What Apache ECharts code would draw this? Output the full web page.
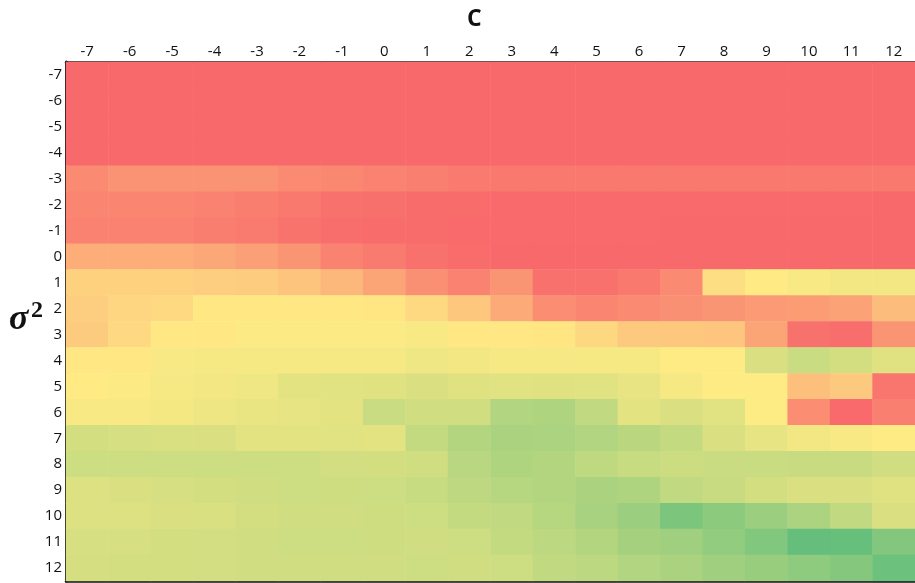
<!DOCTYPE html>
<html><head><meta charset="utf-8">
<script src="https://cdn.jsdelivr.net/npm/echarts@6/dist/echarts.min.js"></script>
<style>html,body{margin:0;padding:0;background:#fff}#c{width:915px;height:583px}</style>
</head><body><div id="c"></div>
<script>
const cLabels = ['-7','-6','-5','-4','-3','-2','-1','0','1','2','3','4','5','6','7','8','9','10','11','12'];
const sigmaLabels = ['-7','-6','-5','-4','-3','-2','-1','0','1','2','3','4','5','6','7','8','9','10','11','12'];
// score per cell: 0 = red, 50 = yellow, 100 = green (rows = sigma^2, columns = C)
const rowM7 = [0,0,0,0,0,0,0,0,0,0,0,0,0,0,0,0,0,0,0,0];
const rowM6 = [0,0,0,0,0,0,0,0,0,0,0,0,0,0,0,0,0,0,0,0];
const rowM5 = [0,0,0,0,0,0,0,0,0,0,0,0,0,0,0,0,0,0,0,0];
const rowM4 = [0,0,0,0,0,0,0,0,0,0,0,0,0,0,0,0,0,0,0,0];
const rowM3 = [13,16,16,16,16,13,12,10,9,7,6,6,6,6,6,6,6,6,6,6];
const rowM2 = [11,11,11,9.5,8,6,3,2.5,1.5,1,0.5,0.5,0.5,0.5,0.5,0.5,0.5,0.5,0.5,0];
const rowM1 = [10,10,10,8,7,4,2,1.5,1,0.5,0.5,0.5,0.5,0.5,0,0,0,0,0,0];
const row0  = [26,26,26,24,21,17,10,7,3,1,0,0,0,0,0,0,0,0,0,0];
const row1  = [40,40,40,39,38,35,30,23,15,9.5,17,3,3,6,13,45,49.5,52,54,54];
const row2  = [39,41.5,43,49,49,49,49,48,43,36,25,14,11,13,15,17,19,19.5,22,32];
const row3  = [37.5,43,49,49,51,51,51,51,52,48.5,48.5,48,42.5,37,36.5,35.5,23,3.5,2,17];
const row4  = [49,49,52,53,53,53,53,53,55,54,53,53,53,53,50,50,62,67,64,60];
const row5  = [49.5,51,53,54,55,58.5,59.5,60,62,60,59.5,60,59.5,57.5,53,50,50,33,37,5];
const row6  = [52,52,53.5,55.5,57,58,59,67,65,65,75,76,70,59,62,59.5,50.5,14,0.5,9];
const row7  = [64,63,62.5,62,59,59,59.5,58.5,69,74,77,76.5,75,72,69,62,58,54,52,50];
const row8  = [66,66,66,66,66,66,64.5,64,65,72.5,75.5,74,70.5,68,66.5,67,67,67.5,67.5,65];
const row9  = [61,62,63,64,65,66,65.5,66,68,71,73.5,74,77,75.5,70,67.5,64,62,62,60];
const row10 = [61,61,62,62.5,64,65,65,65.5,66,69,70,73,78,82,92,87,82,76.5,70,62];
const row11 = [63,63,64,64.5,65,66,66,65.5,65,66,69,71.5,74,79,80.5,85,90.5,99.5,99,90];
const row12 = [63.5,64,64,64.5,65,65,65,65,66,65,66,70,71.5,75,77,80.5,83,86,89.5,97];
const rows = [rowM7,rowM6,rowM5,rowM4,rowM3,rowM2,rowM1,row0,row1,row2,row3,row4,row5,row6,row7,row8,row9,row10,row11,row12];

const data = [];
rows.forEach((r, yi) => r.forEach((v, xi) => data.push([xi, yi, v])));

const chart = echarts.init(document.getElementById('c'), null, {renderer: 'canvas'});
const labelStyle = {color: '#111', fontSize: 15, fontFamily: 'Open Sans'};
chart.setOption({
  animation: false,
  grid: {left: 66, top: 62, width: 857, height: 519},
  xAxis: [
    {type: 'category', data: cLabels, position: 'top',
     axisLine: {show: true, lineStyle: {color: '#111', width: 2.5}},
     axisTick: {show: false}, splitLine: {show: false},
     axisLabel: Object.assign({margin: 3}, labelStyle)},
    {type: 'category', data: cLabels, position: 'bottom',
     axisLine: {show: true, lineStyle: {color: '#111', width: 2.5}},
     axisTick: {show: false}, axisLabel: {show: false}, splitLine: {show: false}}
  ],
  yAxis: {type: 'category', data: sigmaLabels, inverse: true,
    axisLine: {show: true, lineStyle: {color: '#111', width: 3}},
    axisTick: {show: false}, splitLine: {show: false},
    axisLabel: Object.assign({margin: 4}, labelStyle)},
  visualMap: {show: false, min: 0, max: 100, dimension: 2,
    inRange: {color: ['#F8696B', '#FFEB84', '#63BE7B']}},
  series: [{type: 'heatmap', xAxisIndex: 0, data: data,
    itemStyle: {borderWidth: 0}, emphasis: {disabled: true}}],
  graphic: [
    {type: 'text', left: 467, top: 8, style: {text: 'C', font: 'bold 23px "Open Sans"', fill: '#111'}},
    {type: 'text', x: 9, y: 320, style: {text: 'σ', font: 'italic bold 36px "Liberation Serif"', fill: '#111', verticalAlign: 'middle'}},
    {type: 'text', x: 31, y: 311, style: {text: '2', font: 'bold 24px "Liberation Serif"', fill: '#111', verticalAlign: 'middle'}}
  ]
});
</script></body></html>
